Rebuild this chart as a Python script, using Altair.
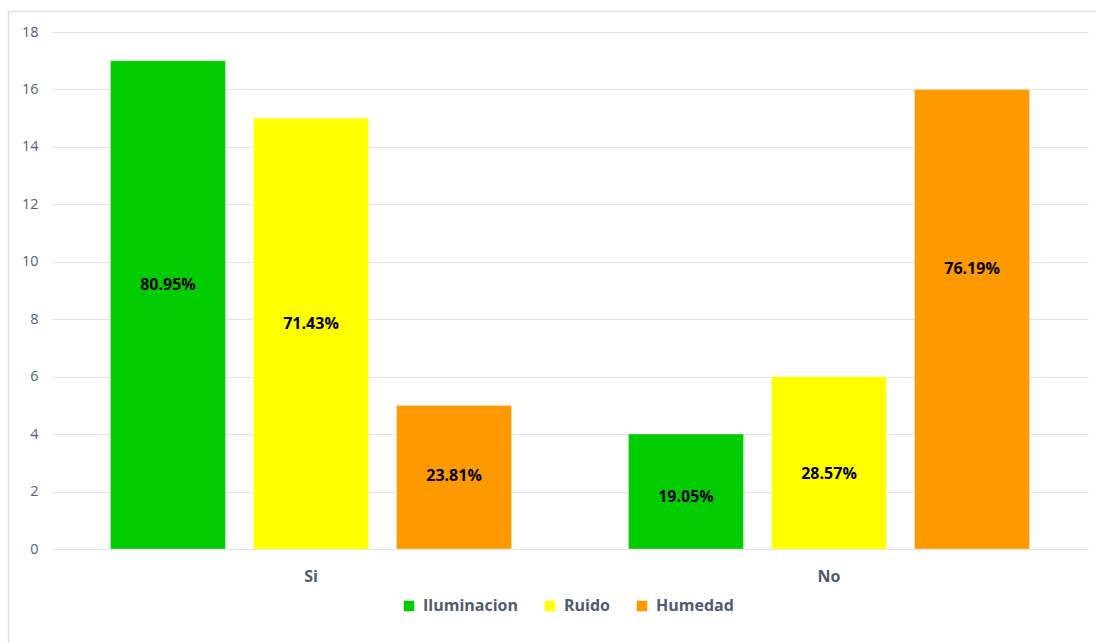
import altair as alt
import pandas as pd

categories = ["Si", "No"]
series = ["Iluminacion", "Ruido", "Humedad"]
colors = ["#00CC00", "#FFFF00", "#FF9900"]
si_values = [17, 15, 5]
no_values = [4, 6, 16]
si_labels = ["80.95%", "71.43%", "23.81%"]
no_labels = ["19.05%", "28.57%", "76.19%"]
# label anchor heights (data units)
si_label_pos = [9.2, 7.85, 2.55]
no_label_pos = [1.8, 2.6, 9.75]

rows = []
for cat, vals, labs, pos in [("Si", si_values, si_labels, si_label_pos),
                             ("No", no_values, no_labels, no_label_pos)]:
    for s, v, l, p in zip(series, vals, labs, pos):
        rows.append({"cat": cat, "serie": s, "value": v, "label": l, "pos": p})
df = pd.DataFrame(rows)

FONT = "Open Sans"

x_enc = alt.X("cat:N", sort=categories, title=None,
              scale=alt.Scale(paddingInner=0, paddingOuter=0),
              axis=alt.Axis(labelAngle=0, domain=False, ticks=False, labelPadding=19,
                            labelFontSize=16, labelFontWeight="bold", labelColor="#4F5B6E",
                            labelFont=FONT, grid=False))
xoff_enc = alt.XOffset("serie:N", sort=series,
                       scale=alt.Scale(paddingInner=0.196, paddingOuter=0.409))

bars = alt.Chart(df).mark_bar(stroke="white", strokeWidth=0.5, strokeOpacity=0.6).encode(
    x=x_enc,
    xOffset=xoff_enc,
    y=alt.Y("value:Q", title=None,
            scale=alt.Scale(domain=[0, 18], nice=False),
            axis=alt.Axis(values=list(range(0, 19, 2)), domain=False, ticks=False,
                          labelPadding=14, labelFontSize=14.5, labelColor="#56607A",
                          labelFont=FONT, gridColor="#E3E3E3", gridWidth=1)),
    color=alt.Color("serie:N", sort=series,
                    scale=alt.Scale(domain=series, range=colors),
                    legend=alt.Legend(title=None, orient="none", direction="horizontal",
                                      legendX=349, legendY=566, symbolType="square",
                                      symbolSize=110, symbolStrokeWidth=0,
                                      labelFontSize=16, labelFontWeight="bold",
                                      labelColor="#4F5B6E", labelFont=FONT,
                                      labelOffset=6, columnPadding=24)),
)

texts = alt.Chart(df).mark_text(fontSize=16, fontWeight="bold", color="black",
                                font=FONT).encode(
    x=alt.X("cat:N", sort=categories),
    xOffset=alt.XOffset("serie:N", sort=series),
    y=alt.Y("pos:Q"),
    text="label:N",
)

border = alt.Chart(alt.Data(values=[{}])).mark_rect(
    fill="transparent", stroke="#DDE1E6", strokeWidth=1.5
).encode(x=alt.value(-43.5), y=alt.value(-20.5), x2=alt.value(1100), y2=alt.value(700))

chart = alt.layer(border, bars, texts).properties(
    width=1036, height=517,
    background="white",
    autosize=alt.AutoSizeParams(type="none"),
    padding={"left": 52, "top": 32, "right": 8, "bottom": 94},
).configure_view(strokeWidth=0, stroke="transparent")

chart.save("out.html", embed_options={"renderer": "svg", "actions": False})
